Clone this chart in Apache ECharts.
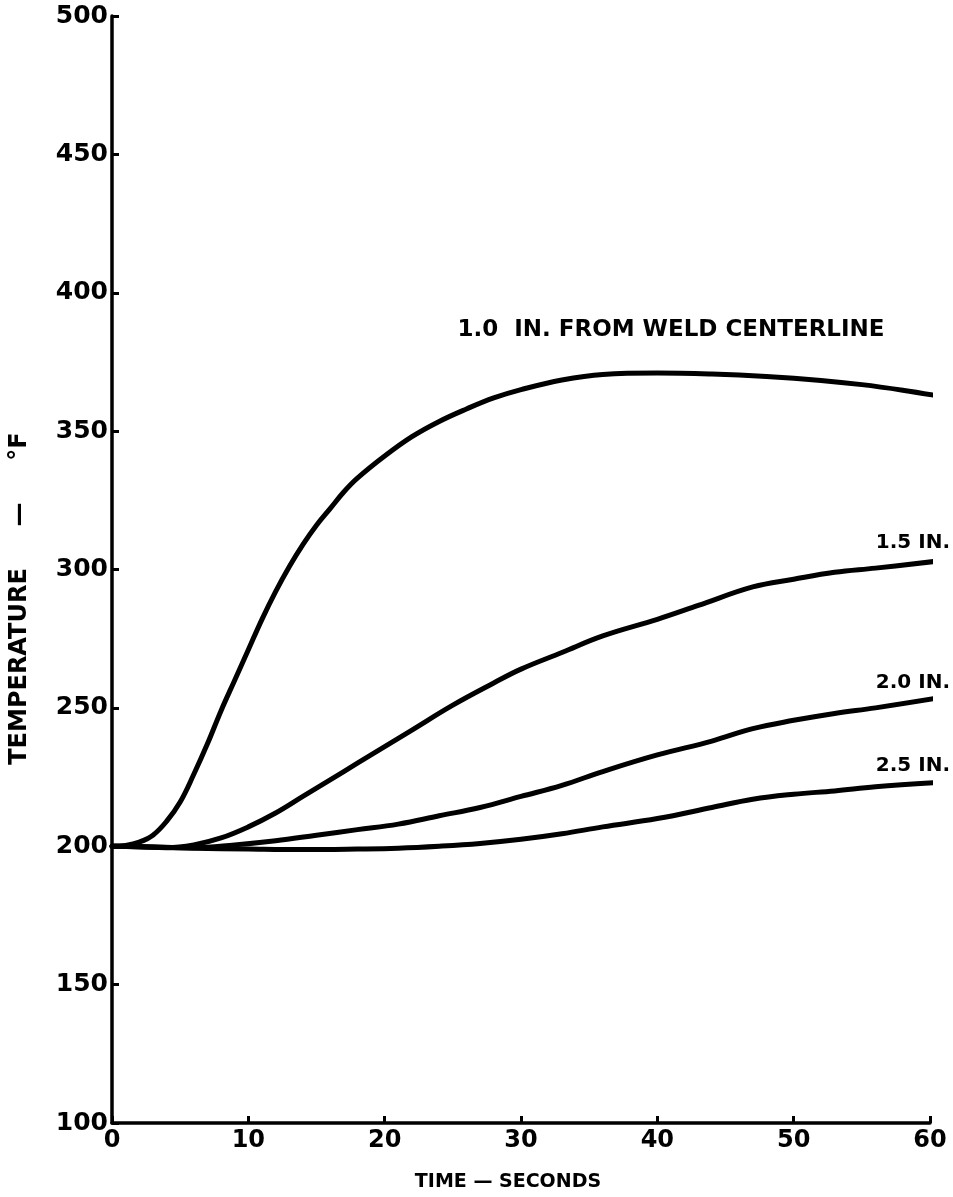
<!DOCTYPE html>
<html>
<head>
<meta charset="utf-8">
<script src="https://cdn.jsdelivr.net/npm/echarts@6/dist/echarts.min.js"></script>
<style>
  html, body { margin: 0; padding: 0; background: #fff; }
  #chart { width: 953px; height: 1197px; }
</style>
</head>
<body>
<div id="chart"></div>
<script>
// Temperature history at several distances from the weld centerline
const time10 = [0, 1, 2, 3, 4, 5, 6, 7, 8, 9, 10, 11, 12, 13, 14, 15, 16, 17, 18, 20, 22, 24, 26, 28, 30, 33, 36, 40, 44, 48, 52, 55, 58, 60.5];
const temp10 = [200, 200.3, 201.5, 204, 209, 216, 226, 237, 249, 260, 271, 282, 292, 301, 309, 316, 322, 328, 333, 341, 348, 353.5, 358, 362, 365, 368.5, 370.5, 371, 370.6, 369.7, 368.3, 366.8, 364.8, 362.8];

const time15 = [0, 2, 4, 6, 8, 10, 12, 14, 16, 18, 20, 22, 25, 28, 30, 33, 36, 40, 43, 47, 50, 53, 56, 60.5];
const temp15 = [200, 199.8, 199.5, 200.5, 203, 207, 212, 218, 224, 230, 236, 242, 251, 259, 264, 270, 276, 282, 287, 293.7, 296.5, 299, 300.5, 303];

const time20 = [0, 3, 6, 9, 12, 15, 18, 21, 24, 27, 30, 33, 36, 40, 44, 47, 50, 53, 56, 60.5];
const temp20 = [200, 199.7, 199.5, 200.5, 202, 204, 206, 208, 211, 214, 218, 222, 227, 233, 238, 242.5, 245.5, 248, 250, 253.5];

const time25 = [0, 3, 6, 10, 14, 18, 21, 24, 27, 30, 33, 36, 40, 44, 47, 50, 53, 56, 60.5];
const temp25 = [200, 199.7, 199.3, 199, 198.8, 199, 199.3, 200, 201, 202.5, 204.5, 207, 210, 214, 217, 218.8, 220, 221.5, 223];

const curveNames = ['1.0  IN. FROM WELD CENTERLINE', '1.5 IN.', '2.0 IN.', '2.5 IN.'];
const xTicks = [0, 10, 20, 30, 40, 50, 60];
const yTicks = [100, 150, 200, 250, 300, 350, 400, 450, 500];

const FONT = '"DejaVu Sans", sans-serif';
const INK = '#000';

function pairs(ts, vs) { return ts.map((t, i) => [t, vs[i]]); }

// A text tag tied to a point of the curve it names
function tag(text, coord, offset, align, size) {
  return {
    symbol: 'circle', symbolSize: 0,
    data: [{ coord: coord }],
    label: {
      show: true, formatter: text, position: 'top', align: align,
      offset: offset, color: INK, fontFamily: FONT, fontWeight: 'bold', fontSize: size
    }
  };
}

function curve(name, ts, vs, mark) {
  return {
    name: name, type: 'line', smooth: 0.4, showSymbol: false, symbol: 'none',
    clip: false,
    data: pairs(ts, vs),
    lineStyle: { color: INK, width: 5, cap: 'round', join: 'round' },
    markPoint: mark, z: 3, silent: true
  };
}

const chart = echarts.init(document.getElementById('chart'), null, { renderer: 'canvas' });
chart.setOption({
  backgroundColor: '#fff',
  animation: false,
  grid: { left: 108, right: 23, top: 16, bottom: 72, containLabel: false },
  xAxis: {
    type: 'value', min: 0, max: 60, interval: 10,
    name: 'TIME — SECONDS', nameLocation: 'middle', nameGap: 50,
    nameTextStyle: { color: INK, fontFamily: FONT, fontWeight: 'bold', fontSize: 19, padding: [0, 26, 0, 0] },
    axisLine: { lineStyle: { color: INK, width: 3.5 } },
    axisTick: { inside: true, length: 7, lineStyle: { color: INK, width: 3 } },
    axisLabel: {
      color: INK, fontFamily: FONT, fontWeight: 'bold', fontSize: 24, margin: 6,
      formatter: v => (xTicks.indexOf(v) >= 0 ? String(v) : '')
    },
    splitLine: { show: false }
  },
  yAxis: {
    type: 'value', min: 100, max: 500, interval: 50,
    name: 'TEMPERATURE     —     °F', nameLocation: 'middle', nameGap: 80, nameRotate: 90,
    nameTextStyle: { color: INK, fontFamily: FONT, fontWeight: 'bold', fontSize: 24, padding: [0, 58, 0, 0] },
    axisLine: { lineStyle: { color: INK, width: 3.5 } },
    axisTick: { inside: true, length: 7, lineStyle: { color: INK, width: 3 } },
    axisLabel: {
      color: INK, fontFamily: FONT, fontWeight: 'bold', fontSize: 25, margin: 4,
      formatter: v => (yTicks.indexOf(v) >= 0 ? String(v) : '')
    },
    splitLine: { show: false }
  },
  series: [
    curve(curveNames[0], time10, temp10, tag(curveNames[0], [41, 371], [0, -26], 'center', 23)),
    curve(curveNames[1], time15, temp15, tag(curveNames[1], [60, 302.6], [20, -5], 'right', 20)),
    curve(curveNames[2], time20, temp20, tag(curveNames[2], [60, 253.1], [20, -1], 'right', 20)),
    curve(curveNames[3], time25, temp25, tag(curveNames[3], [60, 222.8], [20, -2], 'right', 20))
  ]
});
</script>
</body>
</html>
